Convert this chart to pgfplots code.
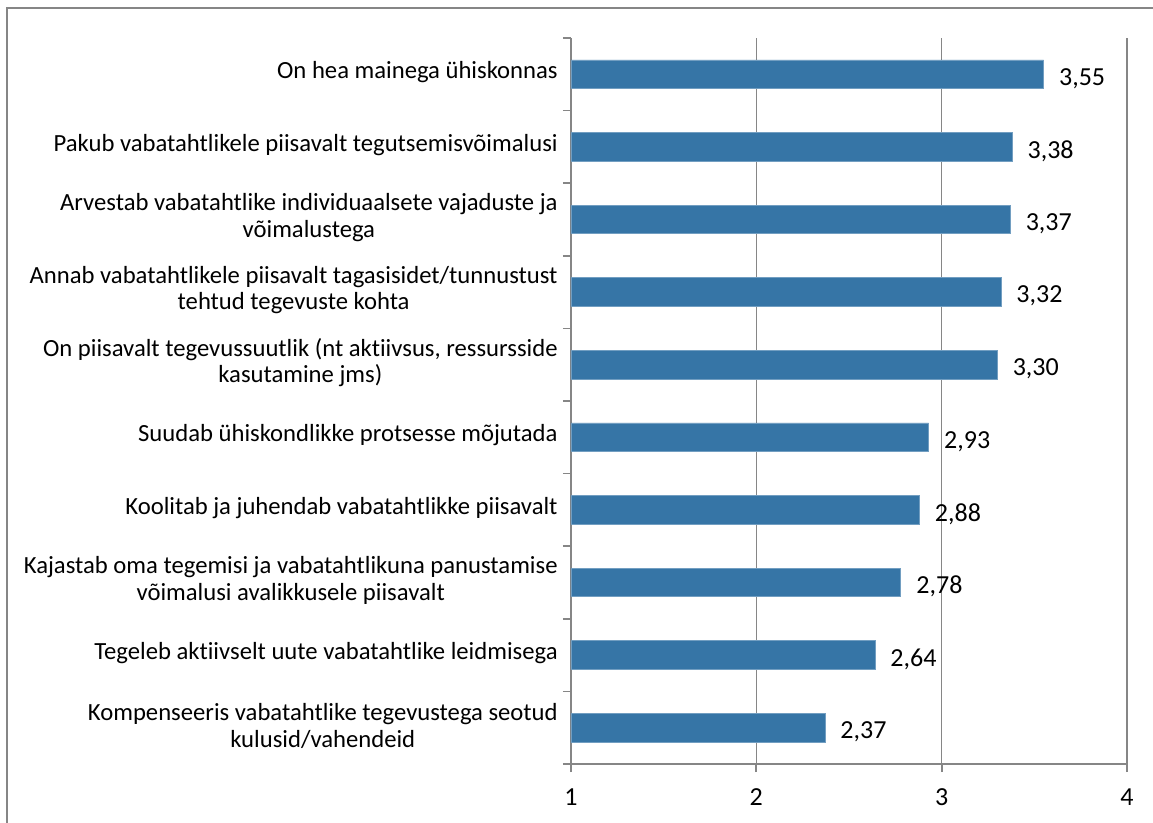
\documentclass[border=0pt]{standalone}
\usepackage{pgfplots}
\pgfplotsset{compat=1.18}
\usepackage{fontspec}
\setmainfont{Carlito}[RawFeature={-liga;-dlig}]
\definecolor{barblue}{RGB}{54,117,166}
\definecolor{gridgray}{RGB}{134,134,134}
\begin{document}
\begin{tikzpicture}[x=0.75pt,y=0.75pt]
\useasboundingbox (0,0) rectangle (1153,823);
\draw[gridgray, line width=1.2pt] (7,-20) -- (7,815) -- (1180,815);
\begin{axis}[
  at={(428.25pt,44.25pt)}, anchor=south west,
  scale only axis, width=417pt, height=544.5pt,
  xbar, bar width=21.5pt,
  xmin=1, xmax=4, xtick={1,2,3,4},
  ymin=-0.5, ymax=9.5, y dir=reverse,
  ytick={0,...,9},
  minor ytick={-0.5,0.5,...,9.5},
  yticklabels={
    On hea mainega ühiskonnas,
    Pakub vabatahtlikele piisavalt tegutsemisvõimalusi,
    {Arvestab vabatahtlike individuaalsete vajaduste ja\\võimalustega},
    {Annab vabatahtlikele piisavalt tagasisidet/tunnustust\\tehtud tegevuste kohta},
    {On piisavalt tegevussuutlik (nt aktiivsus, ressursside\\kasutamine jms)},
    Suudab ühiskondlikke protsesse mõjutada,
    Koolitab ja juhendab vabatahtlikke piisavalt,
    {Kajastab oma tegemisi ja vabatahtlikuna panustamise\\võimalusi avalikkusele piisavalt},
    Tegeleb aktiivselt uute vabatahtlike leidmisega,
    {Kompenseeris vabatahtlike tegevustega seotud\\kulusid/vahendeid}
  },
  yticklabel style={align=center, font=\fontsize{18.5}{20}\selectfont, xshift=-0.5pt, yshift=1.5pt},
  xticklabel style={font=\fontsize{19.5}{21}\selectfont, yshift=-9pt},
  /pgf/number format/assume math mode=true,
  axis x line*=bottom, axis y line*=left,
  axis line style={gridgray, line width=1.3pt},
  major y tick style={draw=none},
  minor y tick style={gridgray, line width=1.3pt},
  x tick style={gridgray, line width=1.3pt},
  tick align=outside,
  major tick length=6pt, minor tick length=6pt,
  xmajorgrids, grid style={gridgray, line width=1pt},
  clip=true,
  nodes near coords,
  nodes near coords style={
    /pgf/number format/.cd, fixed, fixed zerofill, precision=2, use comma, assume math mode=true,
    /tikz/.cd, font=\fontsize{19.5}{22}\selectfont, anchor=west, xshift=8pt, yshift=-3pt, text=black},
  point meta=explicit,
]
\addplot[fill=barblue, draw=barblue!70!white, line width=0.6pt] coordinates {
  (3.55,0) [3.55]
  (3.38,1) [3.38]
  (3.37,2) [3.37]
  (3.32,3) [3.32]
  (3.30,4) [3.30]
  (2.93,5) [2.93]
  (2.88,6) [2.88]
  (2.78,7) [2.78]
  (2.64,8) [2.64]
  (2.37,9) [2.37]
};
\end{axis}
\end{tikzpicture}
\end{document}
